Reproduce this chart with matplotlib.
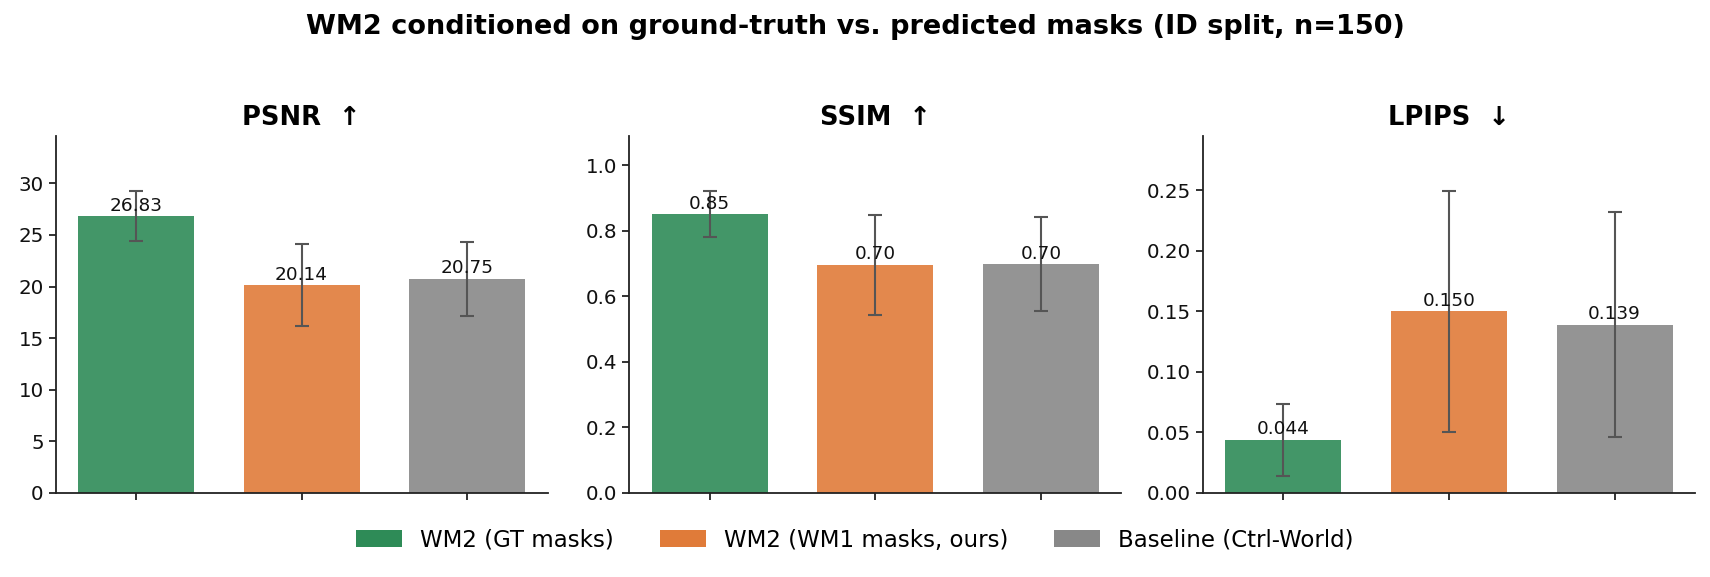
import matplotlib
matplotlib.use("Agg")
import matplotlib.pyplot as plt
from matplotlib.patches import Patch

# ---- data ----
methods = ["WM2 (GT masks)", "WM2 (WM1 masks, ours)", "Baseline (Ctrl-World)"]
colors = ["#2E8B57", "#E07B39", "#888888"]
metric_titles = ["PSNR  \u2191", "SSIM  \u2191", "LPIPS  \u2193"]
label_fmts = ["{:.2f}", "{:.2f}", "{:.3f}"]

psnr_mean = [26.83, 20.14, 20.75]
psnr_std = [2.45, 3.95, 3.56]
ssim_mean = [0.851, 0.696, 0.698]
ssim_std = [0.0705, 0.153, 0.1425]
lpips_mean = [0.044, 0.150, 0.139]
lpips_std = [0.0298, 0.0997, 0.0931]

means = [psnr_mean, ssim_mean, lpips_mean]
stds = [psnr_std, ssim_std, lpips_std]

fig = plt.figure(figsize=(17.1, 5.77), dpi=100)
lefts = [0.0325, 0.368, 0.7035]
bottom, width, height = 0.1456, 0.2877, 0.618

for i in range(3):
    ax = fig.add_axes([lefts[i], bottom, width, height])
    x = list(range(len(methods)))
    ax.bar(x, means[i], width=0.7, color=colors, alpha=0.9,
           yerr=stds[i], capsize=5,
           error_kw=dict(ecolor="#555555", elinewidth=1.5, capthick=1.5))
    for xi, v in zip(x, means[i]):
        ax.annotate(label_fmts[i].format(v), (xi, v), xytext=(0, 1),
                    textcoords="offset points", ha="center", va="bottom",
                    fontsize=13.3, color="#111111")
    top = max(m + s for m, s in zip(means[i], stds[i]))
    ax.set_ylim(0, top * 1.18)
    ax.set_xticks(x)
    ax.set_xticklabels([])
    ax.set_title(metric_titles[i], fontsize=18.5, fontweight="bold", pad=8.5)
    ax.spines["top"].set_visible(False)
    ax.spines["right"].set_visible(False)
    for s in ["left", "bottom"]:
        ax.spines[s].set_color("#222222")
        ax.spines[s].set_linewidth(1.3)
    ax.tick_params(axis="both", labelsize=14.3, colors="#222222", length=5, width=1.3)
    ax.tick_params(axis="both", labelcolor="#111111")

handles = [Patch(facecolor=c, label=m) for c, m in zip(colors, methods)]
fig.legend(handles=handles, loc="center", bbox_to_anchor=(0.5, 0.064), ncol=3,
           frameon=False, fontsize=16.5, handleheight=0.8)
fig.suptitle("WM2 conditioned on ground-truth vs. predicted masks (ID split, n=150)",
             fontsize=19.5, fontweight="bold", y=0.953, va="center")

fig.savefig("out.png", dpi=100)
